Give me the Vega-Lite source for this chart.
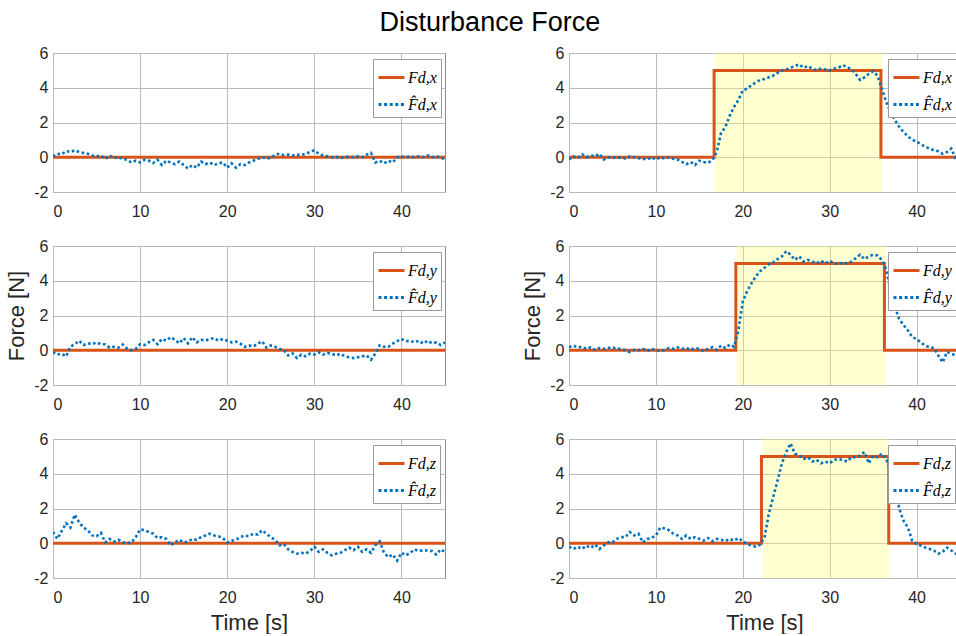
{
"$schema": "https://vega.github.io/schema/vega-lite/v6.json",
"padding": {"left": 5, "top": 8, "right": 0, "bottom": 0},
"title": {"text": "Disturbance Force", "fontSize": 27, "font": "Liberation Sans", "fontWeight": "normal", "color": "#000000", "anchor": "middle", "dx": 7, "offset": -13, "baseline": "alphabetic"},
"config": {
  "font": "Liberation Sans",
  "view": {"stroke": "#8c8c8c", "strokeWidth": 1},
  "axis": {"labelFont": "Liberation Sans", "labelFontSize": 16, "labelColor": "#262626", "titleFont": "Liberation Sans", "titleFontSize": 22, "titleFontWeight": "normal", "titleColor": "#262626", "domain": false, "ticks": false, "tickSize": 0, "gridColor": "#bbbbbb", "gridOpacity": 1, "labelExpr": "'' + datum.value"},
  "axisX": {"labelPadding": 11, "titlePadding": 7},
  "axisY": {"labelPadding": 5, "titlePadding": 5},
  "legend": {"titleFontSize": 1, "symbolType": "stroke", "symbolSize": 676, "symbolStrokeWidth": 3, "labelFont": "Liberation Serif", "labelFontStyle": "italic", "labelFontSize": 16, "labelColor": "#000000", "strokeColor": "#999999", "fillColor": "#ffffff", "padding": 4, "rowPadding": 4, "labelOffset": 2}
},
"columns": 2,
"spacing": {"row": 54, "column": 124},
"bounds": "flush",
"resolve": {"scale": {"color": "independent"}, "legend": {"color": "independent"}},
"concat": [
 {"width": 392, "height": 139, "layer": [
  {"data": {"name": "steps"}, "transform": [{"filter": "datum.p == 'lx'"}], "mark": {"type": "line", "interpolate": "step-after", "strokeWidth": 3, "clip": true},
   "encoding": {"x": {"field": "t", "type": "quantitative", "scale": {"domain": [0, 45], "nice": false, "zero": false}, "axis": {"values": [0,10,20,30,40], "title": null}},
    "y": {"field": "v", "type": "quantitative", "scale": {"domain": [-2, 6], "nice": false}, "axis": {"values": [-2,0,2,4,6], "title": null}},
    "color": {"datum": "F", "type": "nominal", "scale": {"domain": ["F","E"], "range": ["#D95319","#0072BD"]}, "legend": {"title": null, "orient": "none", "legendX": 320, "legendY": 6, "labelExpr": "datum.value == 'F' ? 'Fd,x' : 'F̂d,x'", "encode": {"symbols": {"update": {"strokeDash": {"signal": "datum.value == 'E' ? [3,2.6] : [1,0]"}}}}}}}},
  {"data": {"name": "est"}, "transform": [{"filter": "datum.p == 'lx'"}], "mark": {"type": "line", "strokeWidth": 2.6, "strokeDash": [2.6, 2.6], "clip": true},
   "encoding": {"x": {"field": "t", "type": "quantitative", "scale": {"domain": [0, 45], "nice": false, "zero": false}, "axis": {"values": [0,10,20,30,40], "title": null}},
    "y": {"field": "v", "type": "quantitative", "scale": {"domain": [-2, 6], "nice": false}, "axis": {"values": [-2,0,2,4,6], "title": null}},
    "color": {"datum": "E", "type": "nominal", "scale": {"domain": ["F","E"], "range": ["#D95319","#0072BD"]}, "legend": {"title": null, "orient": "none", "legendX": 320, "legendY": 6, "labelExpr": "datum.value == 'F' ? 'Fd,x' : 'F̂d,x'", "encode": {"symbols": {"update": {"strokeDash": {"signal": "datum.value == 'E' ? [3,2.6] : [1,0]"}}}}}}}}
 ]},
 {"width": 391, "height": 139, "layer": [
  {"data": {"name": "bands"}, "transform": [{"filter": "datum.p == 'rx'"}], "mark": {"type": "rect", "color": "#FFFF66", "opacity": 0.3},
   "encoding": {"x": {"field": "t", "type": "quantitative", "scale": {"domain": [0, 45], "nice": false, "zero": false}, "axis": {"values": [0,10,20,30,40], "title": null}}, "x2": {"field": "t2"}}},
  {"data": {"name": "steps"}, "transform": [{"filter": "datum.p == 'rx'"}], "mark": {"type": "line", "interpolate": "step-after", "strokeWidth": 3, "clip": true},
   "encoding": {"x": {"field": "t", "type": "quantitative", "scale": {"domain": [0, 45], "nice": false, "zero": false}, "axis": {"values": [0,10,20,30,40], "title": null}},
    "y": {"field": "v", "type": "quantitative", "scale": {"domain": [-2, 6], "nice": false}, "axis": {"values": [-2,0,2,4,6], "title": null}},
    "color": {"datum": "F", "type": "nominal", "scale": {"domain": ["F","E"], "range": ["#D95319","#0072BD"]}, "legend": {"title": null, "orient": "none", "legendX": 319, "legendY": 6, "labelExpr": "datum.value == 'F' ? 'Fd,x' : 'F̂d,x'", "encode": {"symbols": {"update": {"strokeDash": {"signal": "datum.value == 'E' ? [3,2.6] : [1,0]"}}}}}}}},
  {"data": {"name": "est"}, "transform": [{"filter": "datum.p == 'rx'"}], "mark": {"type": "line", "strokeWidth": 2.6, "strokeDash": [2.6, 2.6], "clip": true},
   "encoding": {"x": {"field": "t", "type": "quantitative", "scale": {"domain": [0, 45], "nice": false, "zero": false}, "axis": {"values": [0,10,20,30,40], "title": null}},
    "y": {"field": "v", "type": "quantitative", "scale": {"domain": [-2, 6], "nice": false}, "axis": {"values": [-2,0,2,4,6], "title": null}},
    "color": {"datum": "E", "type": "nominal", "scale": {"domain": ["F","E"], "range": ["#D95319","#0072BD"]}, "legend": {"title": null, "orient": "none", "legendX": 319, "legendY": 6, "labelExpr": "datum.value == 'F' ? 'Fd,x' : 'F̂d,x'", "encode": {"symbols": {"update": {"strokeDash": {"signal": "datum.value == 'E' ? [3,2.6] : [1,0]"}}}}}}}}
 ]},
 {"width": 392, "height": 139, "layer": [
  {"data": {"name": "steps"}, "transform": [{"filter": "datum.p == 'ly'"}], "mark": {"type": "line", "interpolate": "step-after", "strokeWidth": 3, "clip": true},
   "encoding": {"x": {"field": "t", "type": "quantitative", "scale": {"domain": [0, 45], "nice": false, "zero": false}, "axis": {"values": [0,10,20,30,40], "title": null}},
    "y": {"field": "v", "type": "quantitative", "scale": {"domain": [-2, 6], "nice": false}, "axis": {"values": [-2,0,2,4,6], "title": "Force [N]"}},
    "color": {"datum": "F", "type": "nominal", "scale": {"domain": ["F","E"], "range": ["#D95319","#0072BD"]}, "legend": {"title": null, "orient": "none", "legendX": 320, "legendY": 6, "labelExpr": "datum.value == 'F' ? 'Fd,y' : 'F̂d,y'", "encode": {"symbols": {"update": {"strokeDash": {"signal": "datum.value == 'E' ? [3,2.6] : [1,0]"}}}}}}}},
  {"data": {"name": "est"}, "transform": [{"filter": "datum.p == 'ly'"}], "mark": {"type": "line", "strokeWidth": 2.6, "strokeDash": [2.6, 2.6], "clip": true},
   "encoding": {"x": {"field": "t", "type": "quantitative", "scale": {"domain": [0, 45], "nice": false, "zero": false}, "axis": {"values": [0,10,20,30,40], "title": null}},
    "y": {"field": "v", "type": "quantitative", "scale": {"domain": [-2, 6], "nice": false}, "axis": {"values": [-2,0,2,4,6], "title": "Force [N]"}},
    "color": {"datum": "E", "type": "nominal", "scale": {"domain": ["F","E"], "range": ["#D95319","#0072BD"]}, "legend": {"title": null, "orient": "none", "legendX": 320, "legendY": 6, "labelExpr": "datum.value == 'F' ? 'Fd,y' : 'F̂d,y'", "encode": {"symbols": {"update": {"strokeDash": {"signal": "datum.value == 'E' ? [3,2.6] : [1,0]"}}}}}}}}
 ]},
 {"width": 391, "height": 139, "layer": [
  {"data": {"name": "bands"}, "transform": [{"filter": "datum.p == 'ry'"}], "mark": {"type": "rect", "color": "#FFFF66", "opacity": 0.3},
   "encoding": {"x": {"field": "t", "type": "quantitative", "scale": {"domain": [0, 45], "nice": false, "zero": false}, "axis": {"values": [0,10,20,30,40], "title": null}}, "x2": {"field": "t2"}}},
  {"data": {"name": "steps"}, "transform": [{"filter": "datum.p == 'ry'"}], "mark": {"type": "line", "interpolate": "step-after", "strokeWidth": 3, "clip": true},
   "encoding": {"x": {"field": "t", "type": "quantitative", "scale": {"domain": [0, 45], "nice": false, "zero": false}, "axis": {"values": [0,10,20,30,40], "title": null}},
    "y": {"field": "v", "type": "quantitative", "scale": {"domain": [-2, 6], "nice": false}, "axis": {"values": [-2,0,2,4,6], "title": "Force [N]"}},
    "color": {"datum": "F", "type": "nominal", "scale": {"domain": ["F","E"], "range": ["#D95319","#0072BD"]}, "legend": {"title": null, "orient": "none", "legendX": 319, "legendY": 6, "labelExpr": "datum.value == 'F' ? 'Fd,y' : 'F̂d,y'", "encode": {"symbols": {"update": {"strokeDash": {"signal": "datum.value == 'E' ? [3,2.6] : [1,0]"}}}}}}}},
  {"data": {"name": "est"}, "transform": [{"filter": "datum.p == 'ry'"}], "mark": {"type": "line", "strokeWidth": 2.6, "strokeDash": [2.6, 2.6], "clip": true},
   "encoding": {"x": {"field": "t", "type": "quantitative", "scale": {"domain": [0, 45], "nice": false, "zero": false}, "axis": {"values": [0,10,20,30,40], "title": null}},
    "y": {"field": "v", "type": "quantitative", "scale": {"domain": [-2, 6], "nice": false}, "axis": {"values": [-2,0,2,4,6], "title": "Force [N]"}},
    "color": {"datum": "E", "type": "nominal", "scale": {"domain": ["F","E"], "range": ["#D95319","#0072BD"]}, "legend": {"title": null, "orient": "none", "legendX": 319, "legendY": 6, "labelExpr": "datum.value == 'F' ? 'Fd,y' : 'F̂d,y'", "encode": {"symbols": {"update": {"strokeDash": {"signal": "datum.value == 'E' ? [3,2.6] : [1,0]"}}}}}}}}
 ]},
 {"width": 392, "height": 139, "layer": [
  {"data": {"name": "steps"}, "transform": [{"filter": "datum.p == 'lz'"}], "mark": {"type": "line", "interpolate": "step-after", "strokeWidth": 3, "clip": true},
   "encoding": {"x": {"field": "t", "type": "quantitative", "scale": {"domain": [0, 45], "nice": false, "zero": false}, "axis": {"values": [0,10,20,30,40], "title": "Time [s]"}},
    "y": {"field": "v", "type": "quantitative", "scale": {"domain": [-2, 6], "nice": false}, "axis": {"values": [-2,0,2,4,6], "title": null}},
    "color": {"datum": "F", "type": "nominal", "scale": {"domain": ["F","E"], "range": ["#D95319","#0072BD"]}, "legend": {"title": null, "orient": "none", "legendX": 320, "legendY": 6, "labelExpr": "datum.value == 'F' ? 'Fd,z' : 'F̂d,z'", "encode": {"symbols": {"update": {"strokeDash": {"signal": "datum.value == 'E' ? [3,2.6] : [1,0]"}}}}}}}},
  {"data": {"name": "est"}, "transform": [{"filter": "datum.p == 'lz'"}], "mark": {"type": "line", "strokeWidth": 2.6, "strokeDash": [2.6, 2.6], "clip": true},
   "encoding": {"x": {"field": "t", "type": "quantitative", "scale": {"domain": [0, 45], "nice": false, "zero": false}, "axis": {"values": [0,10,20,30,40], "title": "Time [s]"}},
    "y": {"field": "v", "type": "quantitative", "scale": {"domain": [-2, 6], "nice": false}, "axis": {"values": [-2,0,2,4,6], "title": null}},
    "color": {"datum": "E", "type": "nominal", "scale": {"domain": ["F","E"], "range": ["#D95319","#0072BD"]}, "legend": {"title": null, "orient": "none", "legendX": 320, "legendY": 6, "labelExpr": "datum.value == 'F' ? 'Fd,z' : 'F̂d,z'", "encode": {"symbols": {"update": {"strokeDash": {"signal": "datum.value == 'E' ? [3,2.6] : [1,0]"}}}}}}}}
 ]},
 {"width": 391, "height": 139, "layer": [
  {"data": {"name": "bands"}, "transform": [{"filter": "datum.p == 'rz'"}], "mark": {"type": "rect", "color": "#FFFF66", "opacity": 0.3},
   "encoding": {"x": {"field": "t", "type": "quantitative", "scale": {"domain": [0, 45], "nice": false, "zero": false}, "axis": {"values": [0,10,20,30,40], "title": "Time [s]"}}, "x2": {"field": "t2"}}},
  {"data": {"name": "steps"}, "transform": [{"filter": "datum.p == 'rz'"}], "mark": {"type": "line", "interpolate": "step-after", "strokeWidth": 3, "clip": true},
   "encoding": {"x": {"field": "t", "type": "quantitative", "scale": {"domain": [0, 45], "nice": false, "zero": false}, "axis": {"values": [0,10,20,30,40], "title": "Time [s]"}},
    "y": {"field": "v", "type": "quantitative", "scale": {"domain": [-2, 6], "nice": false}, "axis": {"values": [-2,0,2,4,6], "title": null}},
    "color": {"datum": "F", "type": "nominal", "scale": {"domain": ["F","E"], "range": ["#D95319","#0072BD"]}, "legend": {"title": null, "orient": "none", "legendX": 319, "legendY": 6, "labelExpr": "datum.value == 'F' ? 'Fd,z' : 'F̂d,z'", "encode": {"symbols": {"update": {"strokeDash": {"signal": "datum.value == 'E' ? [3,2.6] : [1,0]"}}}}}}}},
  {"data": {"name": "est"}, "transform": [{"filter": "datum.p == 'rz'"}], "mark": {"type": "line", "strokeWidth": 2.6, "strokeDash": [2.6, 2.6], "clip": true},
   "encoding": {"x": {"field": "t", "type": "quantitative", "scale": {"domain": [0, 45], "nice": false, "zero": false}, "axis": {"values": [0,10,20,30,40], "title": "Time [s]"}},
    "y": {"field": "v", "type": "quantitative", "scale": {"domain": [-2, 6], "nice": false}, "axis": {"values": [-2,0,2,4,6], "title": null}},
    "color": {"datum": "E", "type": "nominal", "scale": {"domain": ["F","E"], "range": ["#D95319","#0072BD"]}, "legend": {"title": null, "orient": "none", "legendX": 319, "legendY": 6, "labelExpr": "datum.value == 'F' ? 'Fd,z' : 'F̂d,z'", "encode": {"symbols": {"update": {"strokeDash": {"signal": "datum.value == 'E' ? [3,2.6] : [1,0]"}}}}}}}}
 ]}
],
"datasets": {
 "bands": [
  {"p": "rx", "t": 16.75, "t2": 36.05},
  {"p": "ry", "t": 19.3, "t2": 36.45},
  {"p": "rz", "t": 22.3, "t2": 36.8}
 ],
 "steps": [
  {"p": "lx", "t": 0, "v": 0}, {"p": "lx", "t": 45, "v": 0},
  {"p": "ly", "t": 0, "v": 0}, {"p": "ly", "t": 45, "v": 0},
  {"p": "lz", "t": 0, "v": 0}, {"p": "lz", "t": 45, "v": 0},
  {"p": "rx", "t": 0, "v": 0}, {"p": "rx", "t": 16.7, "v": 5}, {"p": "rx", "t": 35.9, "v": 0}, {"p": "rx", "t": 45, "v": 0},
  {"p": "ry", "t": 0, "v": 0}, {"p": "ry", "t": 19.2, "v": 5}, {"p": "ry", "t": 36.3, "v": 0}, {"p": "ry", "t": 45, "v": 0},
  {"p": "rz", "t": 0, "v": 0}, {"p": "rz", "t": 22.15, "v": 5}, {"p": "rz", "t": 36.8, "v": 0}, {"p": "rz", "t": 45, "v": 0}
 ],
 "est": [
{"p":"lx","t":0,"v":0.05},{"p":"lx","t":0.5,"v":0.2},{"p":"lx","t":1,"v":0.17},{"p":"lx","t":1.5,"v":0.35},{"p":"lx","t":2,"v":0.3},{"p":"lx","t":2.5,"v":0.4},{"p":"lx","t":3,"v":0.3},{"p":"lx","t":3.5,"v":0.25},{"p":"lx","t":4,"v":0.2},{"p":"lx","t":4.5,"v":0.1},
{"p":"lx","t":5,"v":0.05},{"p":"lx","t":5.5,"v":0.1},{"p":"lx","t":6,"v":-0.1},{"p":"lx","t":6.5,"v":0.1},{"p":"lx","t":7,"v":-0.05},{"p":"lx","t":7.5,"v":0},{"p":"lx","t":8,"v":-0.1},{"p":"lx","t":8.5,"v":-0.15},{"p":"lx","t":9,"v":-0.3},{"p":"lx","t":9.5,"v":-0.2},
{"p":"lx","t":10,"v":-0.3},{"p":"lx","t":10.5,"v":-0.15},{"p":"lx","t":11,"v":-0.2},{"p":"lx","t":11.5,"v":-0.33},{"p":"lx","t":12,"v":-0.15},{"p":"lx","t":12.5,"v":-0.45},{"p":"lx","t":13,"v":-0.2},{"p":"lx","t":13.5,"v":-0.3},{"p":"lx","t":14,"v":-0.4},{"p":"lx","t":14.5,"v":-0.25},
{"p":"lx","t":15,"v":-0.45},{"p":"lx","t":15.5,"v":-0.65},{"p":"lx","t":16,"v":-0.45},{"p":"lx","t":16.5,"v":-0.6},{"p":"lx","t":17,"v":-0.25},{"p":"lx","t":17.5,"v":-0.4},{"p":"lx","t":18,"v":-0.3},{"p":"lx","t":18.5,"v":-0.45},{"p":"lx","t":19,"v":-0.35},{"p":"lx","t":19.5,"v":-0.3},
{"p":"lx","t":20,"v":-0.6},{"p":"lx","t":20.5,"v":-0.35},{"p":"lx","t":21,"v":-0.6},{"p":"lx","t":21.5,"v":-0.4},{"p":"lx","t":22,"v":-0.45},{"p":"lx","t":22.5,"v":-0.3},{"p":"lx","t":23,"v":-0.2},{"p":"lx","t":23.5,"v":-0.1},{"p":"lx","t":24,"v":0},{"p":"lx","t":24.5,"v":-0.05},
{"p":"lx","t":25,"v":-0.05},{"p":"lx","t":25.5,"v":0.15},{"p":"lx","t":26,"v":0.2},{"p":"lx","t":26.5,"v":0.12},{"p":"lx","t":27,"v":0.15},{"p":"lx","t":27.5,"v":0.1},{"p":"lx","t":28,"v":0.15},{"p":"lx","t":28.5,"v":0.12},{"p":"lx","t":29,"v":0.2},{"p":"lx","t":29.5,"v":0.3},
{"p":"lx","t":30,"v":0.4},{"p":"lx","t":30.5,"v":0.2},{"p":"lx","t":31,"v":0.1},{"p":"lx","t":31.5,"v":0.05},{"p":"lx","t":32,"v":0},{"p":"lx","t":32.5,"v":0.02},{"p":"lx","t":33,"v":-0.05},{"p":"lx","t":33.5,"v":0},{"p":"lx","t":34,"v":0.05},{"p":"lx","t":34.5,"v":0},
{"p":"lx","t":35,"v":0.05},{"p":"lx","t":35.5,"v":0},{"p":"lx","t":36,"v":0.15},{"p":"lx","t":36.5,"v":0.25},{"p":"lx","t":37,"v":-0.3},{"p":"lx","t":37.5,"v":-0.2},{"p":"lx","t":38,"v":-0.35},{"p":"lx","t":38.5,"v":-0.2},{"p":"lx","t":39,"v":-0.3},{"p":"lx","t":39.5,"v":0},
{"p":"lx","t":40,"v":0.05},{"p":"lx","t":40.5,"v":0},{"p":"lx","t":41,"v":0.05},{"p":"lx","t":41.5,"v":0},{"p":"lx","t":42,"v":0.05},{"p":"lx","t":42.5,"v":0},{"p":"lx","t":43,"v":0.1},{"p":"lx","t":43.5,"v":0},{"p":"lx","t":44,"v":0.05},{"p":"lx","t":44.5,"v":0},{"p":"lx","t":45,"v":-0.15},

{"p":"ly","t":0,"v":-0.1},{"p":"ly","t":0.5,"v":-0.25},{"p":"ly","t":1,"v":-0.2},{"p":"ly","t":1.5,"v":-0.35},{"p":"ly","t":2,"v":0.2},{"p":"ly","t":2.5,"v":0.35},{"p":"ly","t":3,"v":0.55},{"p":"ly","t":3.5,"v":0.3},{"p":"ly","t":4,"v":0.4},{"p":"ly","t":4.5,"v":0.35},
{"p":"ly","t":5,"v":0.45},{"p":"ly","t":5.5,"v":0.35},{"p":"ly","t":6,"v":0.33},{"p":"ly","t":6.5,"v":0.15},{"p":"ly","t":7,"v":0.2},{"p":"ly","t":7.5,"v":0.15},{"p":"ly","t":8,"v":0.33},{"p":"ly","t":8.5,"v":0.1},{"p":"ly","t":9,"v":0},{"p":"ly","t":9.5,"v":0.08},
{"p":"ly","t":10,"v":0.35},{"p":"ly","t":10.5,"v":0.3},{"p":"ly","t":11,"v":0.45},{"p":"ly","t":11.5,"v":0.6},{"p":"ly","t":12,"v":0.35},{"p":"ly","t":12.5,"v":0.65},{"p":"ly","t":13,"v":0.55},{"p":"ly","t":13.5,"v":0.75},{"p":"ly","t":14,"v":0.6},{"p":"ly","t":14.5,"v":0.4},
{"p":"ly","t":15,"v":0.7},{"p":"ly","t":15.5,"v":0.4},{"p":"ly","t":16,"v":0.75},{"p":"ly","t":16.5,"v":0.45},{"p":"ly","t":17,"v":0.6},{"p":"ly","t":17.5,"v":0.55},{"p":"ly","t":18,"v":0.65},{"p":"ly","t":18.5,"v":0.7},{"p":"ly","t":19,"v":0.55},{"p":"ly","t":19.5,"v":0.65},
{"p":"ly","t":20,"v":0.55},{"p":"ly","t":20.5,"v":0.45},{"p":"ly","t":21,"v":0.5},{"p":"ly","t":21.5,"v":0.38},{"p":"ly","t":22,"v":0.2},{"p":"ly","t":22.5,"v":0.28},{"p":"ly","t":23,"v":0.22},{"p":"ly","t":23.5,"v":0.38},{"p":"ly","t":24,"v":0.52},{"p":"ly","t":24.5,"v":0.15},
{"p":"ly","t":25,"v":0.28},{"p":"ly","t":25.5,"v":0.2},{"p":"ly","t":26,"v":0.08},{"p":"ly","t":26.5,"v":0},{"p":"ly","t":27,"v":-0.3},{"p":"ly","t":27.5,"v":-0.18},{"p":"ly","t":28,"v":-0.45},{"p":"ly","t":28.5,"v":-0.25},{"p":"ly","t":29,"v":-0.35},{"p":"ly","t":29.5,"v":-0.2},
{"p":"ly","t":30,"v":-0.25},{"p":"ly","t":30.5,"v":-0.12},{"p":"ly","t":31,"v":-0.25},{"p":"ly","t":31.5,"v":-0.15},{"p":"ly","t":32,"v":-0.2},{"p":"ly","t":32.5,"v":-0.3},{"p":"ly","t":33,"v":-0.2},{"p":"ly","t":33.5,"v":-0.35},{"p":"ly","t":34,"v":-0.4},{"p":"ly","t":34.5,"v":-0.45},
{"p":"ly","t":35,"v":-0.4},{"p":"ly","t":35.5,"v":-0.35},{"p":"ly","t":36,"v":-0.3},{"p":"ly","t":36.5,"v":-0.55},{"p":"ly","t":37,"v":-0.2},{"p":"ly","t":37.5,"v":0.28},{"p":"ly","t":38,"v":0.2},{"p":"ly","t":38.5,"v":0.2},{"p":"ly","t":39,"v":0.38},{"p":"ly","t":39.5,"v":0.52},
{"p":"ly","t":40,"v":0.65},{"p":"ly","t":40.5,"v":0.52},{"p":"ly","t":41,"v":0.55},{"p":"ly","t":41.5,"v":0.45},{"p":"ly","t":42,"v":0.55},{"p":"ly","t":42.5,"v":0.38},{"p":"ly","t":43,"v":0.55},{"p":"ly","t":43.5,"v":0.4},{"p":"ly","t":44,"v":0.45},{"p":"ly","t":44.5,"v":0.3},{"p":"ly","t":45,"v":0.45},

{"p":"lz","t":0,"v":0.65},{"p":"lz","t":0.5,"v":0.25},{"p":"lz","t":1,"v":0.7},{"p":"lz","t":1.5,"v":1.15},{"p":"lz","t":2,"v":0.9},{"p":"lz","t":2.5,"v":1.65},{"p":"lz","t":3,"v":1.2},{"p":"lz","t":3.5,"v":0.9},{"p":"lz","t":4,"v":0.75},{"p":"lz","t":4.5,"v":0.45},
{"p":"lz","t":5,"v":0.4},{"p":"lz","t":5.5,"v":0.6},{"p":"lz","t":6,"v":0.05},{"p":"lz","t":6.5,"v":0.25},{"p":"lz","t":7,"v":0.1},{"p":"lz","t":7.5,"v":0.2},{"p":"lz","t":8,"v":0.05},{"p":"lz","t":8.5,"v":0},{"p":"lz","t":9,"v":0.05},{"p":"lz","t":9.5,"v":0.35},
{"p":"lz","t":10,"v":0.8},{"p":"lz","t":10.5,"v":0.75},{"p":"lz","t":11,"v":0.65},{"p":"lz","t":11.5,"v":0.55},{"p":"lz","t":12,"v":0.3},{"p":"lz","t":12.5,"v":0.35},{"p":"lz","t":13,"v":0.25},{"p":"lz","t":13.5,"v":-0.12},{"p":"lz","t":14,"v":0.05},{"p":"lz","t":14.5,"v":0.2},
{"p":"lz","t":15,"v":0.05},{"p":"lz","t":15.5,"v":0.1},{"p":"lz","t":16,"v":0.25},{"p":"lz","t":16.5,"v":0.2},{"p":"lz","t":17,"v":0.35},{"p":"lz","t":17.5,"v":0.45},{"p":"lz","t":18,"v":0.55},{"p":"lz","t":18.5,"v":0.45},{"p":"lz","t":19,"v":0.4},{"p":"lz","t":19.5,"v":0.3},
{"p":"lz","t":20,"v":0.05},{"p":"lz","t":20.5,"v":0.15},{"p":"lz","t":21,"v":0.2},{"p":"lz","t":21.5,"v":0.35},{"p":"lz","t":22,"v":0.45},{"p":"lz","t":22.5,"v":0.4},{"p":"lz","t":23,"v":0.55},{"p":"lz","t":23.5,"v":0.5},{"p":"lz","t":24,"v":0.75},{"p":"lz","t":24.5,"v":0.55},
{"p":"lz","t":25,"v":0.35},{"p":"lz","t":25.5,"v":0.2},{"p":"lz","t":26,"v":-0.12},{"p":"lz","t":26.5,"v":-0.05},{"p":"lz","t":27,"v":-0.35},{"p":"lz","t":27.5,"v":-0.5},{"p":"lz","t":28,"v":-0.6},{"p":"lz","t":28.5,"v":-0.55},{"p":"lz","t":29,"v":-0.6},{"p":"lz","t":29.5,"v":-0.45},
{"p":"lz","t":30,"v":-0.2},{"p":"lz","t":30.5,"v":-0.5},{"p":"lz","t":31,"v":-0.35},{"p":"lz","t":31.5,"v":-0.55},{"p":"lz","t":32,"v":-0.7},{"p":"lz","t":32.5,"v":-0.6},{"p":"lz","t":33,"v":-0.55},{"p":"lz","t":33.5,"v":-0.4},{"p":"lz","t":34,"v":-0.25},{"p":"lz","t":34.5,"v":-0.4},
{"p":"lz","t":35,"v":-0.2},{"p":"lz","t":35.5,"v":-0.5},{"p":"lz","t":36,"v":-0.35},{"p":"lz","t":36.5,"v":-0.55},{"p":"lz","t":37,"v":-0.12},{"p":"lz","t":37.5,"v":0.1},{"p":"lz","t":38,"v":-0.55},{"p":"lz","t":38.5,"v":-0.8},{"p":"lz","t":39,"v":-0.65},{"p":"lz","t":39.5,"v":-1.0},
{"p":"lz","t":40,"v":-0.55},{"p":"lz","t":40.5,"v":-0.7},{"p":"lz","t":41,"v":-0.55},{"p":"lz","t":41.5,"v":-0.35},{"p":"lz","t":42,"v":-0.45},{"p":"lz","t":42.5,"v":-0.4},{"p":"lz","t":43,"v":-0.42},{"p":"lz","t":43.5,"v":-0.45},{"p":"lz","t":44,"v":-0.65},{"p":"lz","t":44.5,"v":-0.35},{"p":"lz","t":45,"v":-0.5},

{"p":"rx","t":0,"v":-0.13},{"p":"rx","t":0.5,"v":0.05},{"p":"rx","t":1,"v":-0.04},{"p":"rx","t":1.5,"v":0.17},{"p":"rx","t":2,"v":0},{"p":"rx","t":2.5,"v":0.1},{"p":"rx","t":3,"v":0.05},{"p":"rx","t":3.5,"v":0.2},{"p":"rx","t":4,"v":-0.13},{"p":"rx","t":4.5,"v":0},
{"p":"rx","t":5,"v":0},{"p":"rx","t":5.5,"v":-0.05},{"p":"rx","t":6,"v":0},{"p":"rx","t":6.5,"v":-0.08},{"p":"rx","t":7,"v":0.05},{"p":"rx","t":7.5,"v":0},{"p":"rx","t":8,"v":-0.05},{"p":"rx","t":8.5,"v":-0.08},{"p":"rx","t":9,"v":-0.13},{"p":"rx","t":9.5,"v":0},
{"p":"rx","t":10,"v":-0.13},{"p":"rx","t":10.5,"v":0},{"p":"rx","t":11,"v":-0.08},{"p":"rx","t":11.5,"v":0},{"p":"rx","t":12,"v":-0.08},{"p":"rx","t":12.5,"v":-0.13},{"p":"rx","t":13,"v":-0.27},{"p":"rx","t":13.5,"v":-0.4},{"p":"rx","t":14,"v":-0.27},{"p":"rx","t":14.5,"v":-0.45},
{"p":"rx","t":15,"v":-0.2},{"p":"rx","t":15.5,"v":-0.27},{"p":"rx","t":16,"v":-0.32},{"p":"rx","t":16.5,"v":-0.17},{"p":"rx","t":17,"v":0.3},{"p":"rx","t":17.5,"v":1.4},{"p":"rx","t":18,"v":1.75},{"p":"rx","t":18.5,"v":2.4},{"p":"rx","t":19,"v":2.9},{"p":"rx","t":19.5,"v":3.3},
{"p":"rx","t":20,"v":3.85},{"p":"rx","t":20.5,"v":3.95},{"p":"rx","t":21,"v":4.15},{"p":"rx","t":21.5,"v":4.3},{"p":"rx","t":22,"v":4.45},{"p":"rx","t":22.5,"v":4.5},{"p":"rx","t":23,"v":4.6},{"p":"rx","t":23.5,"v":4.7},{"p":"rx","t":24,"v":4.85},{"p":"rx","t":24.5,"v":5.0},
{"p":"rx","t":25,"v":5.05},{"p":"rx","t":25.5,"v":5.15},{"p":"rx","t":26,"v":5.25},{"p":"rx","t":26.5,"v":5.35},{"p":"rx","t":27,"v":5.15},{"p":"rx","t":27.5,"v":5.25},{"p":"rx","t":28,"v":5.1},{"p":"rx","t":28.5,"v":5.0},{"p":"rx","t":29,"v":5.1},{"p":"rx","t":29.5,"v":5.05},
{"p":"rx","t":30,"v":5.0},{"p":"rx","t":30.5,"v":5.1},{"p":"rx","t":31,"v":5.15},{"p":"rx","t":31.5,"v":5.3},{"p":"rx","t":32,"v":5.2},{"p":"rx","t":32.5,"v":5.05},{"p":"rx","t":33,"v":4.8},{"p":"rx","t":33.5,"v":4.45},{"p":"rx","t":34,"v":4.6},{"p":"rx","t":34.5,"v":4.8},
{"p":"rx","t":35,"v":4.95},{"p":"rx","t":35.5,"v":4.7},{"p":"rx","t":36,"v":3.95},{"p":"rx","t":36.5,"v":3.2},{"p":"rx","t":37,"v":2.6},{"p":"rx","t":37.5,"v":2.15},{"p":"rx","t":38,"v":1.75},{"p":"rx","t":38.5,"v":1.45},{"p":"rx","t":39,"v":1.2},{"p":"rx","t":39.5,"v":1.0},
{"p":"rx","t":40,"v":0.9},{"p":"rx","t":40.5,"v":0.75},{"p":"rx","t":41,"v":0.6},{"p":"rx","t":41.5,"v":0.5},{"p":"rx","t":42,"v":0.4},{"p":"rx","t":42.5,"v":0.35},{"p":"rx","t":43,"v":0.2},{"p":"rx","t":43.5,"v":0.3},{"p":"rx","t":44,"v":0.5},{"p":"rx","t":44.5,"v":-0.1},{"p":"rx","t":45,"v":0.6},

{"p":"ry","t":0,"v":0.17},{"p":"ry","t":0.5,"v":0.27},{"p":"ry","t":1,"v":0.17},{"p":"ry","t":1.5,"v":0.2},{"p":"ry","t":2,"v":0.08},{"p":"ry","t":2.5,"v":0.17},{"p":"ry","t":3,"v":0.02},{"p":"ry","t":3.5,"v":0.13},{"p":"ry","t":4,"v":0.08},{"p":"ry","t":4.5,"v":0.13},
{"p":"ry","t":5,"v":0.17},{"p":"ry","t":5.5,"v":0.08},{"p":"ry","t":6,"v":0.08},{"p":"ry","t":6.5,"v":0},{"p":"ry","t":7,"v":-0.1},{"p":"ry","t":7.5,"v":0.02},{"p":"ry","t":8,"v":0},{"p":"ry","t":8.5,"v":0.08},{"p":"ry","t":9,"v":-0.05},{"p":"ry","t":9.5,"v":0.08},
{"p":"ry","t":10,"v":0},{"p":"ry","t":10.5,"v":-0.05},{"p":"ry","t":11,"v":0.02},{"p":"ry","t":11.5,"v":0.13},{"p":"ry","t":12,"v":0.08},{"p":"ry","t":12.5,"v":0.17},{"p":"ry","t":13,"v":0.08},{"p":"ry","t":13.5,"v":0.13},{"p":"ry","t":14,"v":0.02},{"p":"ry","t":14.5,"v":0.13},
{"p":"ry","t":15,"v":0.08},{"p":"ry","t":15.5,"v":-0.05},{"p":"ry","t":16,"v":0.08},{"p":"ry","t":16.5,"v":0.17},{"p":"ry","t":17,"v":0.02},{"p":"ry","t":17.5,"v":0.27},{"p":"ry","t":18,"v":0.13},{"p":"ry","t":18.5,"v":0.33},{"p":"ry","t":19,"v":0.2},{"p":"ry","t":19.5,"v":1.15},
{"p":"ry","t":20,"v":2.8},{"p":"ry","t":20.5,"v":3.4},{"p":"ry","t":21,"v":3.85},{"p":"ry","t":21.5,"v":4.25},{"p":"ry","t":22,"v":4.55},{"p":"ry","t":22.5,"v":4.75},{"p":"ry","t":23,"v":4.95},{"p":"ry","t":23.5,"v":5.05},{"p":"ry","t":24,"v":5.25},{"p":"ry","t":24.5,"v":5.4},
{"p":"ry","t":25,"v":5.7},{"p":"ry","t":25.5,"v":5.5},{"p":"ry","t":26,"v":5.2},{"p":"ry","t":26.5,"v":5.4},{"p":"ry","t":27,"v":5.1},{"p":"ry","t":27.5,"v":5.2},{"p":"ry","t":28,"v":5.1},{"p":"ry","t":28.5,"v":5.0},{"p":"ry","t":29,"v":5.15},{"p":"ry","t":29.5,"v":5.0},
{"p":"ry","t":30,"v":5.15},{"p":"ry","t":30.5,"v":5.0},{"p":"ry","t":31,"v":4.95},{"p":"ry","t":31.5,"v":5.05},{"p":"ry","t":32,"v":5.0},{"p":"ry","t":32.5,"v":5.1},{"p":"ry","t":33,"v":5.3},{"p":"ry","t":33.5,"v":5.5},{"p":"ry","t":34,"v":5.25},{"p":"ry","t":34.5,"v":5.4},
{"p":"ry","t":35,"v":5.5},{"p":"ry","t":35.5,"v":5.45},{"p":"ry","t":36,"v":5.2},{"p":"ry","t":36.5,"v":4.65},{"p":"ry","t":37,"v":3.5},{"p":"ry","t":37.5,"v":2.5},{"p":"ry","t":38,"v":1.8},{"p":"ry","t":38.5,"v":1.45},{"p":"ry","t":39,"v":1.15},{"p":"ry","t":39.5,"v":0.75},
{"p":"ry","t":40,"v":0.65},{"p":"ry","t":40.5,"v":0.45},{"p":"ry","t":41,"v":0.27},{"p":"ry","t":41.5,"v":0.17},{"p":"ry","t":42,"v":0.13},{"p":"ry","t":42.5,"v":-0.3},{"p":"ry","t":43,"v":-0.7},{"p":"ry","t":43.5,"v":-0.1},{"p":"ry","t":44,"v":-0.2},{"p":"ry","t":44.5,"v":-0.3},{"p":"ry","t":45,"v":-0.4},

{"p":"rz","t":0,"v":-0.2},{"p":"rz","t":0.5,"v":-0.33},{"p":"rz","t":1,"v":-0.2},{"p":"rz","t":1.5,"v":-0.33},{"p":"rz","t":2,"v":-0.13},{"p":"rz","t":2.5,"v":-0.27},{"p":"rz","t":3,"v":-0.08},{"p":"rz","t":3.5,"v":-0.33},{"p":"rz","t":4,"v":-0.13},{"p":"rz","t":4.5,"v":0.05},
{"p":"rz","t":5,"v":0.05},{"p":"rz","t":5.5,"v":0.25},{"p":"rz","t":6,"v":0.35},{"p":"rz","t":6.5,"v":0.35},{"p":"rz","t":7,"v":0.65},{"p":"rz","t":7.5,"v":0.45},{"p":"rz","t":8,"v":0.55},{"p":"rz","t":8.5,"v":0.05},{"p":"rz","t":9,"v":0.25},{"p":"rz","t":9.5,"v":0.3},
{"p":"rz","t":10,"v":0.45},{"p":"rz","t":10.5,"v":0.9},{"p":"rz","t":11,"v":0.85},{"p":"rz","t":11.5,"v":0.75},{"p":"rz","t":12,"v":0.55},{"p":"rz","t":12.5,"v":0.45},{"p":"rz","t":13,"v":0.25},{"p":"rz","t":13.5,"v":0.45},{"p":"rz","t":14,"v":0.25},{"p":"rz","t":14.5,"v":0.35},
{"p":"rz","t":15,"v":0.25},{"p":"rz","t":15.5,"v":0.15},{"p":"rz","t":16,"v":0.3},{"p":"rz","t":16.5,"v":0.12},{"p":"rz","t":17,"v":0.25},{"p":"rz","t":17.5,"v":0.2},{"p":"rz","t":18,"v":0.12},{"p":"rz","t":18.5,"v":0.25},{"p":"rz","t":19,"v":0.15},{"p":"rz","t":19.5,"v":0.3},
{"p":"rz","t":20,"v":0.12},{"p":"rz","t":20.5,"v":-0.05},{"p":"rz","t":21,"v":-0.13},{"p":"rz","t":21.5,"v":-0.2},{"p":"rz","t":22,"v":-0.08},{"p":"rz","t":22.5,"v":0.35},{"p":"rz","t":23,"v":1.7},{"p":"rz","t":23.5,"v":2.65},{"p":"rz","t":24,"v":3.6},{"p":"rz","t":24.5,"v":4.6},
{"p":"rz","t":25,"v":5.25},{"p":"rz","t":25.5,"v":5.75},{"p":"rz","t":26,"v":5.15},{"p":"rz","t":26.5,"v":5.05},{"p":"rz","t":27,"v":4.85},{"p":"rz","t":27.5,"v":4.95},{"p":"rz","t":28,"v":4.7},{"p":"rz","t":28.5,"v":4.8},{"p":"rz","t":29,"v":4.6},{"p":"rz","t":29.5,"v":4.7},
{"p":"rz","t":30,"v":4.6},{"p":"rz","t":30.5,"v":4.8},{"p":"rz","t":31,"v":4.85},{"p":"rz","t":31.5,"v":4.8},{"p":"rz","t":32,"v":4.7},{"p":"rz","t":32.5,"v":4.95},{"p":"rz","t":33,"v":4.95},{"p":"rz","t":33.5,"v":5.05},{"p":"rz","t":34,"v":5.25},{"p":"rz","t":34.5,"v":4.6},
{"p":"rz","t":35,"v":5.05},{"p":"rz","t":35.5,"v":4.95},{"p":"rz","t":36,"v":5.15},{"p":"rz","t":36.5,"v":4.85},{"p":"rz","t":37,"v":4.2},{"p":"rz","t":37.5,"v":3.25},{"p":"rz","t":38,"v":2.0},{"p":"rz","t":38.5,"v":1.3},{"p":"rz","t":39,"v":0.9},{"p":"rz","t":39.5,"v":0.15},
{"p":"rz","t":40,"v":-0.05},{"p":"rz","t":40.5,"v":-0.13},{"p":"rz","t":41,"v":-0.25},{"p":"rz","t":41.5,"v":-0.33},{"p":"rz","t":42,"v":-0.42},{"p":"rz","t":42.5,"v":-0.6},{"p":"rz","t":43,"v":-0.5},{"p":"rz","t":43.5,"v":-0.25},{"p":"rz","t":44,"v":-0.42},{"p":"rz","t":44.5,"v":-0.6},{"p":"rz","t":45,"v":-0.5}
 ]
}
}
